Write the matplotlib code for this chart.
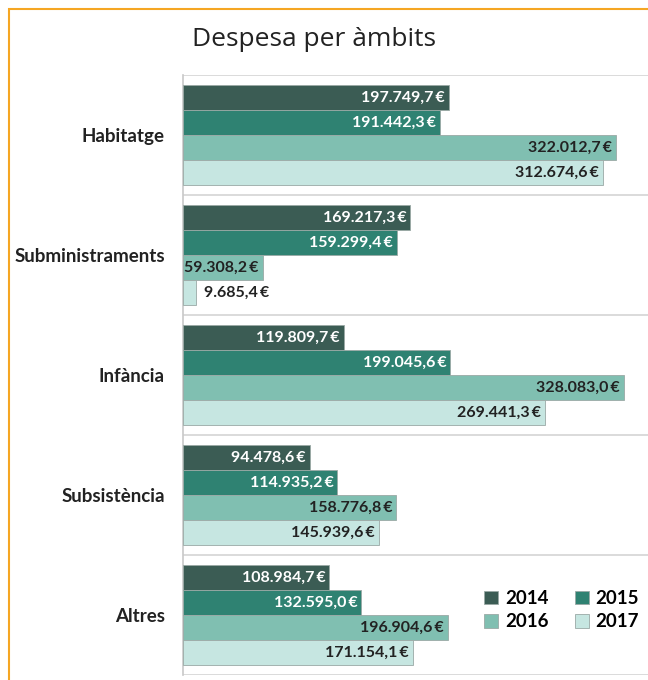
import matplotlib
matplotlib.use('Agg')
import matplotlib.pyplot as plt
import numpy as np
from matplotlib.patches import Rectangle

categories = ['Habitatge', 'Subministraments', 'Infància', 'Subsistència', 'Altres']
years = ['2014', '2015', '2016', '2017']
v2014 = [197749.7, 169217.3, 119809.7, 94478.6, 108984.7]
v2015 = [191442.3, 159299.4, 199045.6, 114935.2, 132595.0]
v2016 = [322012.7, 59308.2, 328083.0, 158776.8, 196904.6]
v2017 = [312674.6, 9685.4, 269441.3, 145939.6, 171154.1]
series = [v2014, v2015, v2016, v2017]

colors = ['#3b5c54', '#2f8272', '#80bfb1', '#c6e6e1']
text_colors = ['white', 'white', '#222222', '#222222']
FONT = ['Lato', 'DejaVu Sans']

def fmt(v):
    s = f"{v:,.1f}"
    s = s.replace(',', 'X').replace('.', ',').replace('X', '.')
    return s + '\u2009€'

fig = plt.figure(figsize=(6.48, 6.80), dpi=100)
# orange outer frame (cut off at right and bottom like the screenshot)
fig.patches.append(Rectangle((9/648, -0.05), 1.2, 1 - 9/680 + 0.05, transform=fig.transFigure,
                             fill=False, edgecolor='#f5a623', linewidth=1.5))

ax = fig.add_axes([183/648, 1 - 675/680, 1 - 183/648 + 0.002, 600/680])
h = 0.208
y = np.arange(len(categories))
for i, vals in enumerate(series):
    pos = y + (i - 1.5) * h
    ax.barh(pos, vals, height=h, color=colors[i], edgecolor='#9aa9a5',
            linewidth=0.6, label=years[i], zorder=3)
    for p, v in zip(pos, vals):
        if v < 40000:
            ax.text(v + 6000, p, fmt(v), ha='left', va='center', fontsize=11.5,
                    fontweight='bold', family=FONT, color='#222222', zorder=4)
        else:
            ax.text(v - 3000, p, fmt(v), ha='right', va='center', fontsize=11.5,
                    fontweight='bold', family=FONT, color=text_colors[i], zorder=4)

ax.set_xlim(0, 347000)
ax.set_ylim(len(categories) - 0.5, -0.5)
ax.set_yticks(y)
ax.set_yticklabels(categories, fontsize=13.5, fontweight='bold', family=FONT, color='#222222')
ax.set_yticks(np.arange(-0.5, len(categories), 1), minor=True)
ax.tick_params(axis='y', which='both', length=0, pad=13)
ax.set_xticks([])
ax.grid(axis='y', which='minor', color='#d4d4d4', linewidth=1.2, zorder=0)
for s in ['top', 'right', 'bottom']:
    ax.spines[s].set_visible(False)
ax.spines['left'].set_color('#c8c8c8')
ax.spines['left'].set_linewidth(1.2)

handles, labels = ax.get_legend_handles_labels()
order = [0, 2, 1, 3]
leg = ax.legend([handles[k] for k in order], [labels[k] for k in order], ncol=2,
                loc='center', bbox_to_anchor=(0.812, 0.108), frameon=False,
                prop={'family': FONT, 'weight': 'bold', 'size': 13.5},
                handlelength=0.75, handleheight=0.75, handletextpad=0.35,
                columnspacing=1.4, labelspacing=0.35)

fig.text(192/648, 1 - 40/680, 'Despesa per àmbits', fontsize=19, family=['Open Sans', 'DejaVu Sans'],
         color='#222222', ha='left', va='center')

fig.savefig('out.png', dpi=100)
